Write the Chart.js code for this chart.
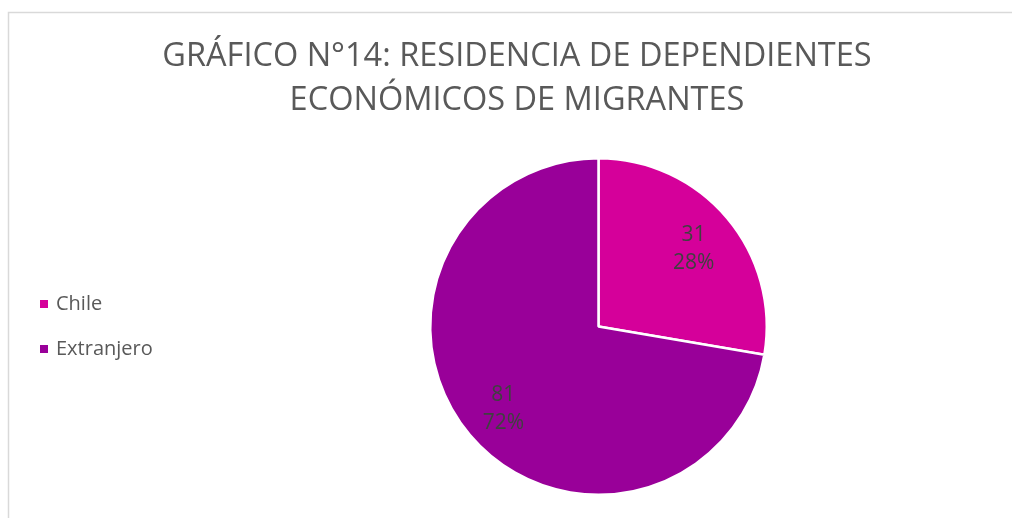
<!DOCTYPE html>
<html>
<head>
<meta charset="utf-8">
<script src="https://cdn.jsdelivr.net/npm/chart.js@4"></script>
<style>
  html, body { margin: 0; padding: 0; background: #ffffff; }
  #wrap { width: 1012px; height: 518px; position: relative; }
</style>
</head>
<body>
<div id="wrap"><canvas id="c" width="1012" height="518"></canvas></div>
<script>
const titleLines = ["GRÁFICO N°14: RESIDENCIA DE DEPENDIENTES", "ECONÓMICOS DE MIGRANTES"];
const categories = ["Chile", "Extranjero"];
const values = [31, 81];
const percentLabels = ["28%", "72%"];
const colors = ["#D5009A", "#990099"];

const FONT = "'Open Sans', 'Noto Sans', sans-serif";

const decorPlugin = {
  id: 'decor',
  beforeDraw(chart) {
    const ctx = chart.ctx;
    ctx.save();
    ctx.fillStyle = '#ffffff';
    ctx.fillRect(0, 0, chart.width, chart.height);
    ctx.strokeStyle = '#d9d9d9';
    ctx.lineWidth = 1.5;
    ctx.beginPath();
    ctx.moveTo(8.5, chart.height);
    ctx.lineTo(8.5, 12.5);
    ctx.lineTo(chart.width, 12.5);
    ctx.stroke();
    ctx.restore();
  },
  afterDraw(chart) {
    const ctx = chart.ctx;
    ctx.save();
    // title
    ctx.fillStyle = '#595959';
    ctx.font = `32.5px ${FONT}`;
    ctx.textAlign = 'center';
    ctx.textBaseline = 'middle';
    ctx.fillText(titleLines[0], 517, 57);
    ctx.fillText(titleLines[1], 517, 101);
    // legend
    ctx.textAlign = 'left';
    ctx.font = `20px ${FONT}`;
    const ys = [304, 349];
    categories.forEach((cat, i) => {
      ctx.fillStyle = colors[i];
      ctx.fillRect(40, ys[i] - 4, 8, 8);
      ctx.fillStyle = '#595959';
      ctx.fillText(cat, 56, ys[i]);
    });
    ctx.restore();
  }
};

const labelPlugin = {
  id: 'sliceLabels',
  afterDatasetsDraw(chart) {
    const ctx = chart.ctx;
    const meta = chart.getDatasetMeta(0);
    ctx.save();
    ctx.fillStyle = '#404040';
    ctx.font = `21px ${FONT}`;
    ctx.textAlign = 'center';
    ctx.textBaseline = 'middle';
    meta.data.forEach((arc, i) => {
      const p = arc.getProps(['x', 'y', 'startAngle', 'endAngle', 'outerRadius'], true);
      const mid = (p.startAngle + p.endAngle) / 2;
      const r = p.outerRadius * 0.74;
      const x = p.x + Math.cos(mid) * r;
      const y = p.y + Math.sin(mid) * r;
      ctx.fillText(String(values[i]), x, y - 11.5);
      ctx.fillText(percentLabels[i], x, y + 16.5);
    });
    ctx.restore();
  }
};

new Chart(document.getElementById('c'), {
  type: 'pie',
  data: {
    labels: categories,
    datasets: [{
      data: values,
      backgroundColor: colors,
      borderColor: '#ffffff',
      borderWidth: 2.5
    }]
  },
  options: {
    responsive: false,
    animation: false,
    layout: { padding: { left: 429, right: 244, top: 157, bottom: 22 } },
    plugins: {
      legend: { display: false },
      title: { display: false },
      tooltip: { enabled: false }
    }
  },
  plugins: [decorPlugin, labelPlugin]
});
</script>
</body>
</html>
